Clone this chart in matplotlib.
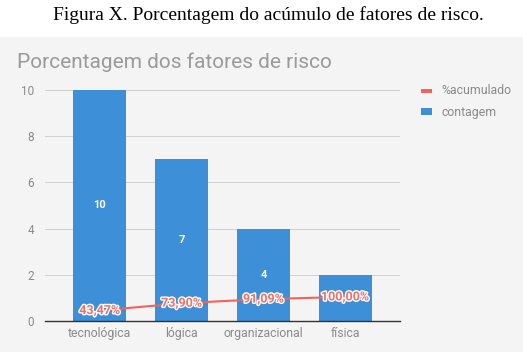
import matplotlib.pyplot as plt
import matplotlib.patheffects as pe
from matplotlib.patches import Rectangle, Patch

categorias = ['tecnológica', 'lógica', 'organizacional', 'física']
contagem = [10, 7, 4, 2]
acumulado = [43.47, 73.90, 91.09, 100.00]
rotulos_acum = ['43,47%', '73,90%', '91,09%', '100,00%']

W, H = 523, 352
fig = plt.figure(figsize=(W / 100, H / 100), dpi=100)
fig.patch.set_facecolor('white')

# painel do grafico
fig.add_artist(Rectangle((0, 0), 1, 1 - 37 / H, transform=fig.transFigure,
                         facecolor='#f5f4f5', edgecolor='none', zorder=0))

fig.text(268 / W, 1 - 15 / H, 'Figura X. Porcentagem do acúmulo de fatores de risco.',
         family='Liberation Serif', fontsize=14, ha='center', va='center', color='black')
fig.text(17 / W, 1 - 62 / H, 'Porcentagem dos fatores de risco',
         family='Roboto', fontsize=15, ha='left', va='center', color='#9a9a9a')

ax = fig.add_axes([45 / W, 1 - 321 / H, 355 / W, 231 / H])
ax.set_facecolor('none')
x = list(range(len(categorias)))
ax.bar(x, contagem, width=0.65, color='#3d8fd8', zorder=2, label='contagem')
ax.set_xlim(-0.67, 3.67)
ax.set_ylim(0, 10)
ax.set_yticks([0, 2, 4, 6, 8, 10])
ax.set_xticks(x)
ax.set_xticklabels(categorias)
ax.grid(axis='y', color='#d0d0d0', linewidth=0.7, zorder=0)
for s in ['top', 'right', 'left']:
    ax.spines[s].set_visible(False)
ax.spines['bottom'].set_color('#333333')
ax.spines['bottom'].set_linewidth(1.0)
ax.spines['bottom'].set_zorder(3)
ax.tick_params(axis='x', length=0, labelsize=8.8, labelcolor='#8a8a8a', pad=4)
ax.tick_params(axis='y', length=0, labelsize=8.5, labelcolor='#8a8a8a', pad=8)
for lab in ax.get_xticklabels() + ax.get_yticklabels():
    lab.set_family('Roboto')

# rotulo da barra menor fica escondido atras do rotulo da linha
for xi, v in zip(x, contagem):
    if v < 3:
        continue
    ax.text(xi, v / 2, str(v), ha='center', va='center', color='white',
            fontsize=8, fontweight='bold', family='Roboto', zorder=4)

ax2 = ax.twinx()
ax2.set_ylim(0, 960)
ax2.axis('off')
ax2.plot(x, acumulado, color='#f0645a', linewidth=1.5, zorder=3, label='%acumulado')
for xi, v, t in zip(x, acumulado, rotulos_acum):
    ax2.text(xi, v, t, ha='center', va='center', color='#f07068', fontsize=9,
             fontweight='bold', family='Roboto', zorder=5,
             path_effects=[pe.withStroke(linewidth=2, foreground='white')])

handles = [Patch(facecolor='#f0645a', edgecolor='none', label='%acumulado'),
           Patch(facecolor='#3d8fd8', edgecolor='none', label='contagem')]
leg = fig.legend(handles=handles, loc='upper left', bbox_to_anchor=(410 / W, 1 - 73 / H),
                 frameon=False, prop={'family': 'Roboto', 'size': 8.8},
                 handlelength=0.9, handleheight=0.5, labelspacing=0.7, handletextpad=0.8)
for t in leg.get_texts():
    t.set_color('#8a8a8a')
leg.legend_handles[0].set_height(3)

fig.savefig('out.png', dpi=100, facecolor=fig.get_facecolor())
